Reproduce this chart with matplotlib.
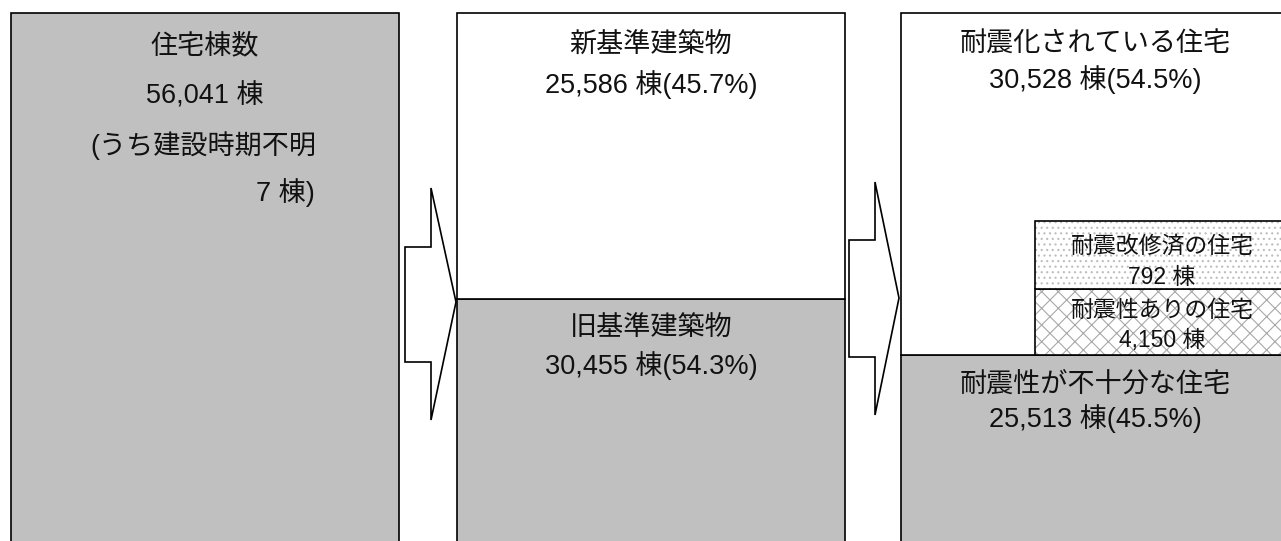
"""
Breakdown of housing stock by building standard and seismic status.
"""

import matplotlib
matplotlib.use('Agg')
import matplotlib.pyplot as plt
from matplotlib.patches import Polygon

plt.rcParams['font.family'] = ['Liberation Sans', 'Noto Sans CJK JP', 'DejaVu Sans']
plt.rcParams['hatch.linewidth'] = 0.8

# --- data ---
total_label = '住宅棟数'
total = 56041
unknown_label = '(うち建設時期不明'
unknown = 7
standard_labels = ['旧基準建築物', '新基準建築物']
standard_counts = [30455, 25586]
seismic_labels = ['耐震性が不十分な住宅', '耐震化されている住宅']
seismic_counts = [25513, 30528]
detail_labels = ['耐震性ありの住宅', '耐震改修済の住宅']
detail_counts = [4150, 792]

# --- layout (pixels) ---
W, H = 1281, 541
COL_TOP = 13        # top edge of the columns
COL_PX = 627        # pixel height of the full stack (bottom runs off the image)
COL_W = 388
COL_X = [205, 651, 1095]
BOX_X, BOX_W = 1162, 254
BOX_PX = [66, 68]   # label boxes are not to scale
GRAY = '#c0c0c0'
LW = 1.2
DY = 3              # small nudge for text baseline

u = total / COL_PX   # buildings per pixel

fig = plt.figure(figsize=(W / 100, H / 100), dpi=100)
ax = fig.add_axes([0, 0, 1, 1])
ax.set_xlim(0, W)
ax.set_ylim(total + COL_TOP * u - H * u, total + COL_TOP * u)
ax.axis('off')

# column 1: all houses
ax.bar(COL_X[0], total, width=COL_W, color=GRAY, edgecolor='black', linewidth=LW)

# column 2 and 3: stacked split
for x, counts in [(COL_X[1], standard_counts), (COL_X[2], seismic_counts)]:
    bottom = 0
    for c, col in zip(counts, [GRAY, 'white']):
        ax.bar(x, c, bottom=bottom, width=COL_W, color=col, edgecolor='black', linewidth=LW)
        bottom += c

# detail boxes inside the seismic-ready part
bottom = seismic_counts[0]
for hpx, hatch, hc in zip(BOX_PX, ['xx', '...'], ['#a8a8a8', '#bdbdbd']):
    ax.bar(BOX_X, hpx * u, bottom=bottom, width=BOX_W, color='white',
           edgecolor=hc, hatch=hatch, linewidth=0)
    ax.bar(BOX_X, hpx * u, bottom=bottom, width=BOX_W, fill=False,
           edgecolor='black', linewidth=LW)
    bottom += hpx * u

# overlay in pixel coords for arrows and text
ov = fig.add_axes([0, 0, 1, 1])
ov.set_xlim(0, W); ov.set_ylim(H, 0)
ov.patch.set_alpha(0); ov.axis('off')

arrows = [
    [(405, 247), (431, 247), (431, 188), (456, 302), (431, 420), (431, 362), (405, 362)],
    [(849, 240), (875, 240), (875, 182), (899, 298), (875, 415), (875, 357), (849, 357)],
]
for pts in arrows:
    ov.add_patch(Polygon(pts, closed=True, facecolor='white', edgecolor='black', linewidth=1.2))

FS, FS_S = 19.5, 16.5
kw = dict(ha='center', va='center', color='#111111')

def pct(c):
    return f'{c:,} 棟({c / total * 100:.1f}%)'

def put(x, y, s, fs=FS, **extra):
    opts = dict(kw); opts.update(extra)
    ov.text(x, y + DY, s, fontsize=fs, **opts)

put(COL_X[0], 43, total_label)
put(COL_X[0], 93, f'{total:,} 棟')
put(COL_X[0] - 2, 143, unknown_label)
put(315, 190, f'{unknown} 棟)', ha='right')

put(COL_X[1], 43, standard_labels[1])
put(COL_X[1], 82, pct(standard_counts[1]))
put(COL_X[1], 325, standard_labels[0])
put(COL_X[1], 363, pct(standard_counts[0]))

put(COL_X[2], 42, seismic_labels[1])
put(COL_X[2], 77, pct(seismic_counts[1]))
put(COL_X[2], 382, seismic_labels[0])
put(COL_X[2], 416, pct(seismic_counts[0]))

put(BOX_X, 243, detail_labels[1], FS_S)
put(BOX_X, 275, f'{detail_counts[1]:,} 棟', FS_S)
put(BOX_X, 307, detail_labels[0], FS_S)
put(BOX_X, 338, f'{detail_counts[0]:,} 棟', FS_S)

fig.savefig('out.png', dpi=100)
plt.close(fig)
